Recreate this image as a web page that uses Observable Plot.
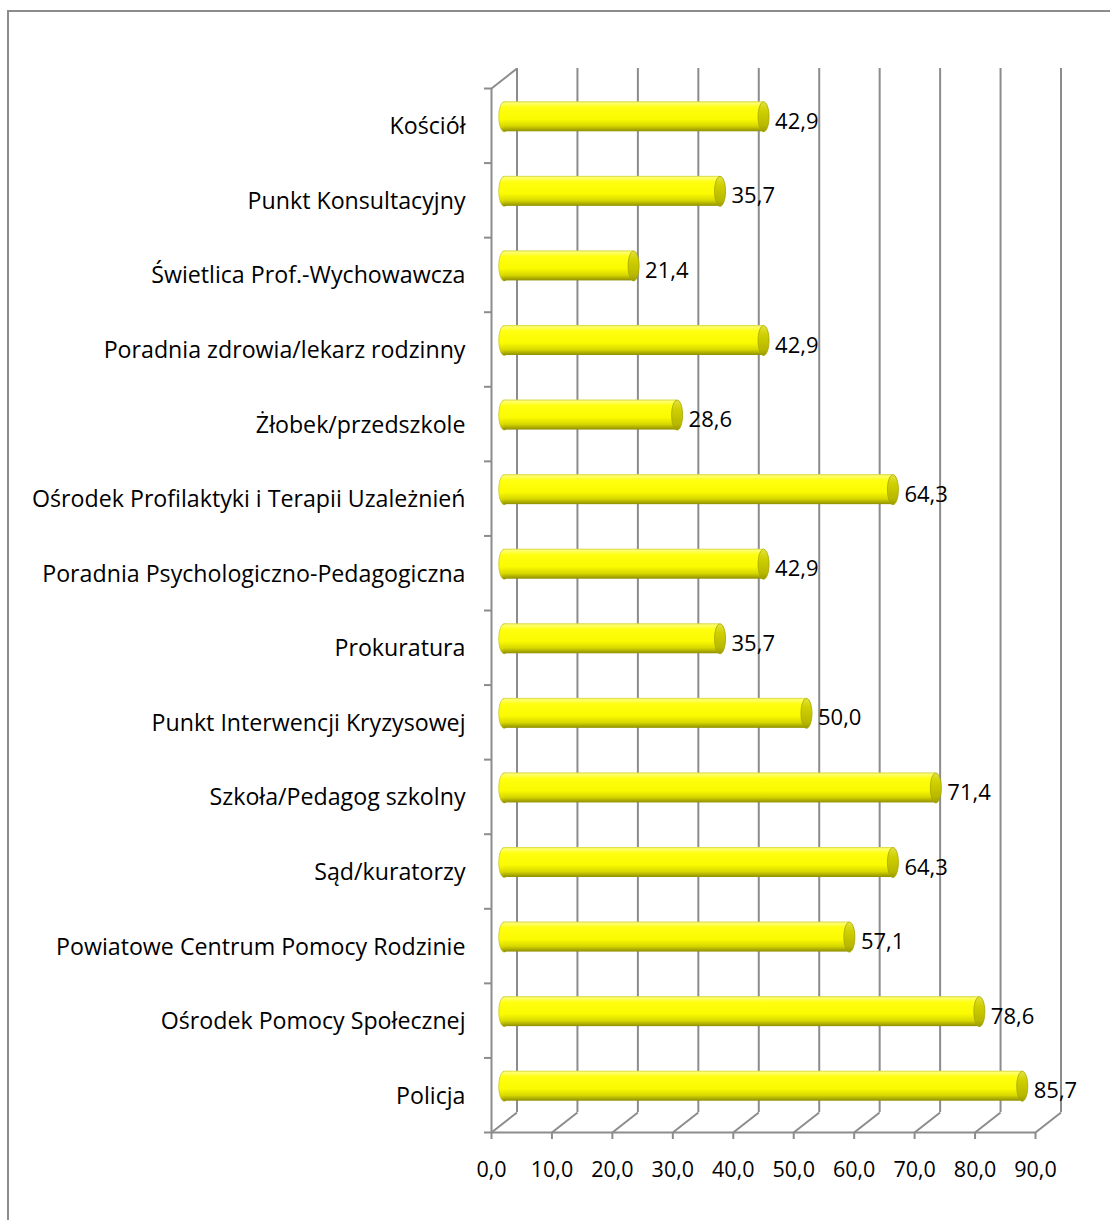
<!DOCTYPE html>
<html>
<head>
<meta charset="utf-8">
<script src="https://cdn.jsdelivr.net/npm/d3@7"></script>
<script src="https://cdn.jsdelivr.net/npm/@observablehq/plot@0.6"></script>
<style>
  html, body { margin: 0; padding: 0; background: #fff; overflow: hidden; }
  #wrap { position: relative; width: 1110px; height: 1220px; overflow: hidden; background: #fff; }
  #frame { position: absolute; left: 7px; top: 10px; width: 1200px; height: 1300px; border: 2px solid #8c8c8c; box-sizing: border-box; }
  #chart { position: absolute; left: 0; top: 0; }
  #chart svg [aria-label^="x-axis"] path, #chart svg [aria-label^="x-axis"] line,
  #chart svg [aria-label^="y-axis"] path, #chart svg [aria-label^="y-axis"] line { stroke: #8c8c8c; stroke-width: 2px; }
</style>
</head>
<body>
<div id="wrap"><div id="frame"></div><div id="chart"></div></div>
<script>
// ---- data (bottom to top, as in the chart) ----
const categories = [
  "Policja",
  "Ośrodek Pomocy Społecznej",
  "Powiatowe Centrum Pomocy Rodzinie",
  "Sąd/kuratorzy",
  "Szkoła/Pedagog szkolny",
  "Punkt Interwencji Kryzysowej",
  "Prokuratura",
  "Poradnia Psychologiczno-Pedagogiczna",
  "Ośrodek Profilaktyki i Terapii Uzależnień",
  "Żłobek/przedszkole",
  "Poradnia zdrowia/lekarz rodzinny",
  "Świetlica Prof.-Wychowawcza",
  "Punkt Konsultacyjny",
  "Kościół"
];
const values = [85.7, 78.6, 57.1, 64.3, 71.4, 50.0, 35.7, 42.9, 64.3, 28.6, 42.9, 21.4, 35.7, 42.9];
const xTicks = [0, 10, 20, 30, 40, 50, 60, 70, 80, 90];

// ---- layout ----
const W = 1110, H = 1220;
const mL = 491, mR = 75, mT = 88, mB = 88;
const xMax = 90, nCat = categories.length;
const depthX = 25.5, depthY = -20;           // 3D depth offset in pixels
const pxPerX = (W - mL - mR) / xMax;
const pxPerY = (H - mT - mB) / nCat;
const depthXd = depthX / pxPerX, depthYd = -depthY / pxPerY; // depth in data units
const barHalf = 15;                            // bar half-height in pixels
const barHalfD = barHalf / pxPerY;
const midDx = depthX / 2, midDy = -9;
const capRx = 5.5;

const fmt = v => v.toFixed(1).replace(".", ",");
const data = categories.map((c, i) => ({cat: c, value: values[i], pos: i + 0.5}));

const ellipse = (rx, ry) => ({
  draw(ctx) {
    const k = 0.5523;
    ctx.moveTo(rx, 0);
    ctx.bezierCurveTo(rx, ry * k, rx * k, ry, 0, ry);
    ctx.bezierCurveTo(-rx * k, ry, -rx, ry * k, -rx, 0);
    ctx.bezierCurveTo(-rx, -ry * k, -rx * k, -ry, 0, -ry);
    ctx.bezierCurveTo(rx * k, -ry, rx, -ry * k, rx, 0);
    ctx.closePath();
  }
});

const grid = "#8c8c8c";
const font = "'Open Sans', Lato, sans-serif";

const chart = Plot.plot({
  width: W, height: H,
  marginLeft: mL, marginRight: mR, marginTop: mT, marginBottom: mB,
  style: {fontFamily: font, fontSize: "20px", color: "#000", background: "transparent"},
  x: {domain: [0, xMax], ticks: xTicks, tickSize: 7, tickPadding: 22, tickFormat: fmt, label: null},
  y: {domain: [0, nCat], ticks: d3.range(nCat + 1), tickSize: 7, tickFormat: () => "", label: null},
  marks: [
    // back wall gridlines
    Plot.ruleX(xTicks, {x: d => d, y1: 0, y2: nCat, dx: depthX, dy: depthY, stroke: grid, strokeWidth: 2}),
    // floor diagonals
    Plot.link(xTicks, {x1: d => d, y1: 0, x2: d => d + depthXd, y2: depthYd, stroke: grid, strokeWidth: 2}),
    // left wall top diagonal
    Plot.link([nCat], {x1: 0, y1: d => d, x2: depthXd, y2: d => d + depthYd, stroke: grid, strokeWidth: 2}),
    // front left edge and floor front edge
    Plot.ruleX([0], {x: d => d, y1: 0, y2: nCat, stroke: grid, strokeWidth: 2}),
    Plot.ruleY([0], {y: d => d, x1: 0, x2: xMax, stroke: grid, strokeWidth: 2}),
    // cylinder left ends
    Plot.dot(data, {x: d => 0, y: "pos", symbol: ellipse(capRx, barHalf), fill: "url(#cyl)", stroke: "#b8b800", strokeWidth: 0.6, dx: midDx, dy: midDy}),
    // cylinder bodies
    Plot.rect(data, {x1: d => 0, x2: "value", y1: d => d.pos - barHalfD, y2: d => d.pos + barHalfD, fill: "url(#cyl)", dx: midDx, dy: midDy}),
    // cylinder right caps
    Plot.dot(data, {x: "value", y: "pos", symbol: ellipse(capRx, barHalf), fill: "url(#cap)", stroke: "#a6a600", strokeWidth: 0.8, dx: midDx, dy: midDy}),
    // value labels
    Plot.text(data, {x: "value", y: "pos", text: d => fmt(d.value), textAnchor: "start", dx: midDx + capRx + 6, dy: -4, fontSize: 22, fill: "#000"}),
    // category labels
    Plot.text(data, {x: d => 0, y: "pos", text: "cat", textAnchor: "end", dx: -26, dy: 1, fontSize: 23.2, fill: "#000"})
  ]
});

const svg = d3.select(chart);
svg.selectAll('[aria-label^="x-axis"] text').style("font-size", "21.5px");
const defs = svg.insert("defs", ":first-child");
const g1 = defs.append("linearGradient").attr("id", "cyl").attr("x1", 0).attr("y1", 0).attr("x2", 0).attr("y2", 1);
[[0, "#d4d43a"], [0.06, "#ffff70"], [0.2, "#ffff10"], [0.6, "#fafa00"], [0.82, "#d8d800"], [1, "#8f8f00"]]
  .forEach(([o, c]) => g1.append("stop").attr("offset", o).attr("stop-color", c));
const g2 = defs.append("linearGradient").attr("id", "cap").attr("x1", 0).attr("y1", 0).attr("x2", 0).attr("y2", 1);
[[0, "#e2e240"], [0.3, "#d0d000"], [0.8, "#b8b800"], [1, "#9a9a00"]]
  .forEach(([o, c]) => g2.append("stop").attr("offset", o).attr("stop-color", c));

document.getElementById("chart").appendChild(chart);
</script>
</body>
</html>
